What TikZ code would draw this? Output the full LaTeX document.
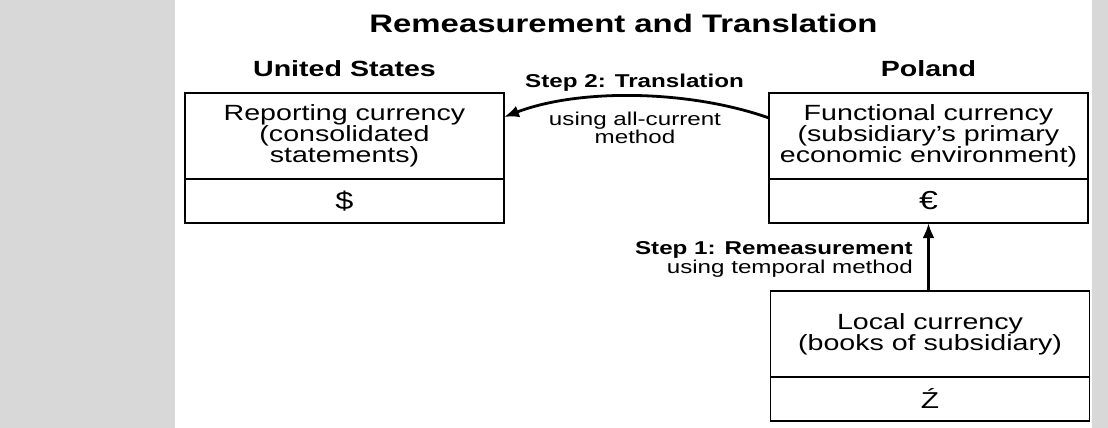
\documentclass[tikz,border=0pt]{standalone}
\usepackage{fontspec}
\setmainfont{Liberation Sans}[FakeStretch=1.3]
\usetikzlibrary{arrows.meta,calc}
\definecolor{strip}{RGB}{216,216,216}
\tikzset{
  cell/.style={draw=black, line width=1.8pt, minimum width=319pt, inner sep=0pt, outer sep=0pt,
    align=center, font=\fontsize{22}{21.3}\selectfont, anchor=north},
  toppart/.style={cell, minimum height=86pt},
  botpart/.style={cell, minimum height=44pt},
  heading/.style={font=\bfseries\fontsize{22}{24}\selectfont, anchor=base, inner sep=0pt},
  steplabel/.style={font=\bfseries\fontsize{18.6}{19}\selectfont, anchor=base, inner sep=0pt},
  stepnote/.style={font=\fontsize{18.6}{18.5}\selectfont, align=center, inner sep=0pt},
  flow/.style={line width=3pt, -{Latex[length=15pt,width=12pt]}},
}
\begin{document}
\begin{tikzpicture}[x=1pt,y=-1pt]
\useasboundingbox (0,0) rectangle (1108,428);
\fill[strip] (0,0) rectangle (175,428);
\fill[strip] (1092,0) rectangle (1108,428);

\node[font=\bfseries\fontsize{25.3}{27}\selectfont, anchor=base, inner sep=0pt] (title) at (623.5,33) {Remeasurement and Translation};

\node[heading] (us) at (344.5,77) {United States};
\node[heading] (pl) at (928.5,77) {Poland};

\node[toppart] (rep) at (344.5,93) {Reporting currency\\(consolidated\\statements)};
\node[botpart, font=\fontsize{25}{25}\selectfont] (usd) at (rep.south) {\$};

\node[toppart] (fun) at (928.5,93) {Functional currency\\(subsidiary's primary\\economic environment)};
\node[botpart, font=\fontsize{26}{26}\selectfont] (eur) at (fun.south) {€};

\node[toppart] (loc) at (930,291) {Local currency\\(books of subsidiary)};
\node[botpart, font=\fontsize{23}{23}\selectfont] (pln) at (loc.south) {Ź};

\draw[flow] (loc.north -| eur.south) -- (eur.south);
\draw[flow, line width=2.8pt] ([yshift=18pt]fun.west) .. controls (690,90) and (580,88) .. ([yshift=19pt]rep.east);

\node[steplabel] (s2) at (634.5,87) {Step 2: Translation};
\node[stepnote] (s2n) at (635,128) {using all-current\\method};
\node[stepnote, align=right, anchor=east] (s1) at (913,259.6) {\textbf{Step 1: Remeasurement}\\using temporal method};
\end{tikzpicture}
\end{document}
